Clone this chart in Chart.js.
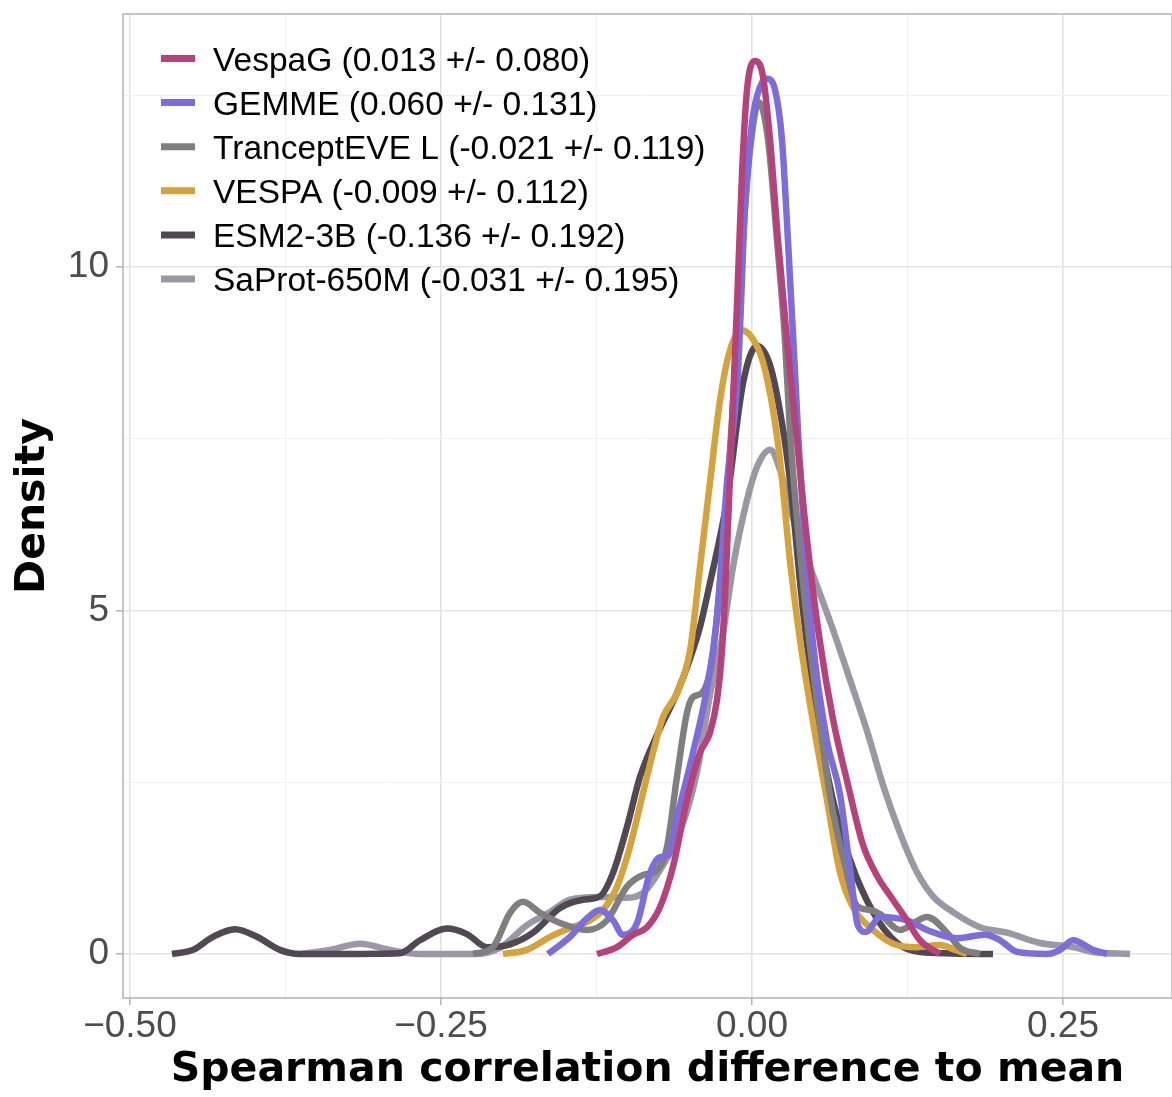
<!DOCTYPE html>
<html lang="en">
<head>
<meta charset="UTF-8">
<title>Spearman correlation difference to mean</title>
<script src="https://cdn.jsdelivr.net/npm/chart.js@4.4.0/dist/chart.umd.min.js"></script>
<style>
  html, body { margin: 0; padding: 0; background: #ffffff; }
  #wrap { width: 1172px; height: 1097px; }
</style>
</head>
<body>
<div id="wrap"><canvas id="chart" width="1172" height="1097"></canvas></div>
<script>
// legend order (first one is drawn on top)
const seriesNames = [
  'VespaG (0.013 +/- 0.080)',
  'GEMME (0.060 +/- 0.131)',
  'TranceptEVE L (-0.021 +/- 0.119)',
  'VESPA (-0.009 +/- 0.112)',
  'ESM2-3B (-0.136 +/- 0.192)',
  'SaProt-650M (-0.031 +/- 0.195)'
];

// density curves
const vespagX = [-0.1246, -0.1085, -0.0957, -0.0844, -0.0740, -0.0635, -0.0523, -0.0418, -0.0338, -0.0281, -0.0241, -0.0201, -0.0169, -0.0121, -0.0080, -0.0040, 0.0024, 0.0088, 0.0145, 0.0209, 0.0281, 0.0362, 0.0442, 0.0547, 0.0651, 0.0772, 0.0892, 0.1005, 0.1133, 0.1246, 0.1350, 0.1511];
const vespagY = [0, 0.10, 0.28, 0.39, 0.68, 1.27, 2.24, 2.93, 3.22, 3.70, 4.42, 5.88, 7.34, 9.42, 11.37, 12.58, 13.00, 12.78, 11.85, 10.39, 8.94, 7.48, 6.03, 4.53, 3.42, 2.46, 1.59, 1.14, 0.79, 0.49, 0.20, 0];

const gemmeX = [-0.1640, -0.1463, -0.1326, -0.1222, -0.1117, -0.1037, -0.0924, -0.0820, -0.0740, -0.0675, -0.0603, -0.0474, -0.0362, -0.0281, -0.0201, -0.0113, -0.0056, 0.0000, 0.0064, 0.0121, 0.0185, 0.0241, 0.0289, 0.0346, 0.0378, 0.0418, 0.0490, 0.0603, 0.0707, 0.0788, 0.0852, 0.0916, 0.1029, 0.1246, 0.1407, 0.1648, 0.1873, 0.1994, 0.2130, 0.2371, 0.2476, 0.2580, 0.2741, 0.2854];
const gemmeY = [0, 0.25, 0.52, 0.64, 0.49, 0.28, 0.45, 1.18, 1.41, 1.44, 1.99, 2.93, 3.87, 4.91, 6.86, 8.46, 10.87, 12.10, 12.62, 12.74, 12.58, 11.85, 10.39, 8.46, 7.34, 6.17, 4.53, 3.10, 2.33, 1.24, 0.41, 0.32, 0.54, 0.49, 0.35, 0.23, 0.28, 0.20, 0.03, 0, 0.06, 0.20, 0.06, 0];

const tranceptX = [-0.2243, -0.2082, -0.1945, -0.1841, -0.1704, -0.1543, -0.1326, -0.1166, -0.1005, -0.0876, -0.0764, -0.0683, -0.0603, -0.0523, -0.0474, -0.0402, -0.0322, -0.0241, -0.0161, -0.0080, -0.0016, 0.0056, 0.0129, 0.0201, 0.0265, 0.0305, 0.0362, 0.0442, 0.0531, 0.0627, 0.0748, 0.0844, 0.0948, 0.1029, 0.1190, 0.1407, 0.1568, 0.1672, 0.1833];
const tranceptY = [0, 0.10, 0.60, 0.76, 0.60, 0.45, 0.35, 0.49, 0.98, 1.15, 1.22, 1.56, 2.58, 3.51, 3.74, 3.80, 4.28, 5.73, 7.77, 10.25, 11.70, 12.40, 11.85, 10.39, 8.94, 7.63, 6.32, 4.86, 3.55, 2.31, 1.28, 0.70, 0.64, 0.58, 0.35, 0.54, 0.31, 0.09, 0];

const vespaX = [-0.2002, -0.1809, -0.1624, -0.1463, -0.1302, -0.1198, -0.1085, -0.0981, -0.0876, -0.0796, -0.0715, -0.0603, -0.0498, -0.0418, -0.0338, -0.0257, -0.0177, -0.0080, 0.0000, 0.0088, 0.0169, 0.0225, 0.0305, 0.0386, 0.0490, 0.0603, 0.0707, 0.0812, 0.0973, 0.1133, 0.1326, 0.1511, 0.1632, 0.1728];
const vespaY = [0, 0.06, 0.25, 0.38, 0.49, 0.64, 0.98, 1.56, 2.34, 2.93, 3.45, 3.80, 4.42, 5.63, 6.86, 8.06, 8.79, 9.08, 8.97, 8.62, 7.92, 7.19, 5.73, 4.57, 3.38, 2.24, 1.19, 0.68, 0.35, 0.15, 0.10, 0.13, 0.06, 0];

const esmX = [-0.4662, -0.4494, -0.4333, -0.4156, -0.3979, -0.3794, -0.3633, -0.3312, -0.2830, -0.2669, -0.2452, -0.2291, -0.2130, -0.1945, -0.1760, -0.1543, -0.1359, -0.1222, -0.1117, -0.1005, -0.0900, -0.0740, -0.0603, -0.0498, -0.0418, -0.0338, -0.0201, -0.0072, 0.0040, 0.0145, 0.0241, 0.0305, 0.0410, 0.0523, 0.0651, 0.0788, 0.0973, 0.1166, 0.1350, 0.1937];
const esmY = [0, 0.06, 0.25, 0.36, 0.25, 0.06, 0, 0, 0.01, 0.20, 0.37, 0.29, 0.10, 0.14, 0.31, 0.67, 0.79, 0.84, 1.18, 1.85, 2.58, 3.28, 3.80, 4.30, 4.76, 5.40, 6.61, 8.31, 8.85, 8.57, 7.73, 6.90, 5.00, 3.45, 2.24, 1.37, 0.61, 0.16, 0.03, 0];

const saprotX = [-0.3633, -0.3392, -0.3151, -0.2910, -0.2669, -0.2243, -0.2026, -0.1809, -0.1624, -0.1463, -0.1222, -0.1021, -0.0876, -0.0740, -0.0579, -0.0442, -0.0338, -0.0233, -0.0153, -0.0040, 0.0040, 0.0145, 0.0225, 0.0322, 0.0410, 0.0506, 0.0651, 0.0788, 0.0924, 0.1053, 0.1190, 0.1326, 0.1455, 0.1616, 0.1833, 0.2050, 0.2315, 0.2580, 0.2741, 0.3039];
const saprotY = [0, 0.06, 0.15, 0.06, 0, 0, 0.09, 0.42, 0.61, 0.79, 0.83, 0.82, 0.89, 1.22, 1.78, 2.65, 3.77, 4.67, 5.63, 6.61, 7.09, 7.34, 7.05, 6.39, 5.91, 5.44, 4.72, 3.99, 3.25, 2.46, 1.76, 1.19, 0.84, 0.61, 0.39, 0.31, 0.16, 0.10, 0.03, 0];

// ticks
const xTickValues = [-0.5, -0.25, 0, 0.25];
const xTickLabels = ['\u22120.50', '\u22120.25', '0.00', '0.25'];
const xMinorValues = [-0.375, -0.125, 0.125];
const yTickValues = [0, 5, 10];
const yTickLabels = ['0', '5', '10'];
const yMinorValues = [2.5, 7.5, 12.5];

const seriesX = [vespagX, gemmeX, tranceptX, vespaX, esmX, saprotX];
const seriesY = [vespagY, gemmeY, tranceptY, vespaY, esmY, saprotY];
const seriesColors = ['#B4437C', '#7D6DD8', '#7F7F7F', '#D5A33D', '#524853', '#9A98A5'];

const tickFont = { family: '"Liberation Sans", Arial, sans-serif', size: 37 };
const titleFont = { family: '"DejaVu Sans", sans-serif', size: 41, weight: 'bold' };

const isMajor = (ctx, list) => ctx.tick && list.includes(ctx.tick.value);

// ggplot-like panel border
const panelBorder = {
  id: 'panelBorder',
  afterDatasetsDraw(chart) {
    const { ctx, chartArea: a } = chart;
    ctx.save();
    ctx.strokeStyle = '#B3B3B3';
    ctx.lineWidth = 1.5;
    ctx.strokeRect(a.left, a.top, a.right - a.left, a.bottom - a.top);
    ctx.restore();
  }
};

// legend inside the panel, top left
const insideLegend = {
  id: 'insideLegend',
  afterDraw(chart) {
    const ctx = chart.ctx;
    ctx.save();
    ctx.font = '33.5px "Liberation Sans", Arial, sans-serif';
    ctx.fillStyle = '#000000';
    ctx.textBaseline = 'alphabetic';
    chart.data.datasets.forEach((ds, i) => {
      const yc = 58.5 + i * 44.1;
      ctx.strokeStyle = ds.borderColor;
      ctx.lineWidth = 7;
      ctx.lineCap = 'butt';
      ctx.beginPath();
      ctx.moveTo(161, yc);
      ctx.lineTo(195, yc);
      ctx.stroke();
      ctx.fillText(ds.label, 213, yc + 12);
    });
    ctx.restore();
  }
};

new Chart(document.getElementById('chart'), {
  type: 'line',
  data: {
    datasets: seriesNames.map((name, i) => ({
      label: name,
      data: seriesX[i].map((x, j) => ({ x: x, y: seriesY[i][j] })),
      borderColor: seriesColors[i],
      backgroundColor: seriesColors[i],
      borderWidth: 6.5,
      pointRadius: 0,
      fill: false,
      cubicInterpolationMode: 'monotone',
      borderJoinStyle: 'round'
    }))
  },
  options: {
    responsive: false,
    animation: false,
    devicePixelRatio: 1,
    layout: { padding: { top: 14, right: 0, bottom: 0, left: 0 } },
    plugins: {
      legend: { display: false },
      tooltip: { enabled: false }
    },
    scales: {
      x: {
        type: 'linear',
        min: -0.5056,
        max: 0.3376,
        afterBuildTicks: (s) => {
          s.ticks = xTickValues.concat(xMinorValues).sort((a, b) => a - b).map(v => ({ value: v }));
        },
        afterFit: (s) => {
          s.height = 99;
          s.paddingLeft = 0;
          s.paddingRight = 0;
        },
        ticks: {
          autoSkip: false,
          maxRotation: 0,
          padding: 0,
          font: tickFont,
          color: '#4D4D4D',
          callback: (v) => {
            const k = xTickValues.indexOf(v);
            return k >= 0 ? xTickLabels[k] : '';
          }
        },
        grid: {
          color: (c) => isMajor(c, xTickValues) ? '#E3E3E3' : '#F0F0F0',
          lineWidth: (c) => isMajor(c, xTickValues) ? 1.6 : 1,
          tickColor: (c) => isMajor(c, xTickValues) ? '#B3B3B3' : 'rgba(0,0,0,0)',
          tickWidth: 1.5,
          tickLength: 7
        },
        border: { display: false },
        title: {
          display: true,
          text: 'Spearman correlation difference to mean',
          font: titleFont,
          color: '#000000',
          padding: { top: 0, bottom: 2 }
        }
      },
      y: {
        type: 'linear',
        min: -0.6405,
        max: 13.683,
        afterBuildTicks: (s) => {
          s.ticks = yTickValues.concat(yMinorValues).sort((a, b) => a - b).map(v => ({ value: v }));
        },
        afterFit: (s) => {
          s.width = 123;
          s.paddingTop = 0;
          s.paddingBottom = 0;
        },
        ticks: {
          autoSkip: false,
          padding: 7,
          font: tickFont,
          color: '#4D4D4D',
          callback: (v) => {
            const k = yTickValues.indexOf(v);
            return k >= 0 ? yTickLabels[k] : '';
          }
        },
        grid: {
          color: (c) => isMajor(c, yTickValues) ? '#E3E3E3' : '#F0F0F0',
          lineWidth: (c) => isMajor(c, yTickValues) ? 1.6 : 1,
          tickColor: (c) => isMajor(c, yTickValues) ? '#B3B3B3' : 'rgba(0,0,0,0)',
          tickWidth: 1.5,
          tickLength: 7
        },
        border: { display: false },
        title: {
          display: true,
          text: 'Density',
          font: titleFont,
          color: '#000000',
          padding: { top: 9, bottom: 0 }
        }
      }
    }
  },
  plugins: [panelBorder, insideLegend]
});
</script>
</body>
</html>
